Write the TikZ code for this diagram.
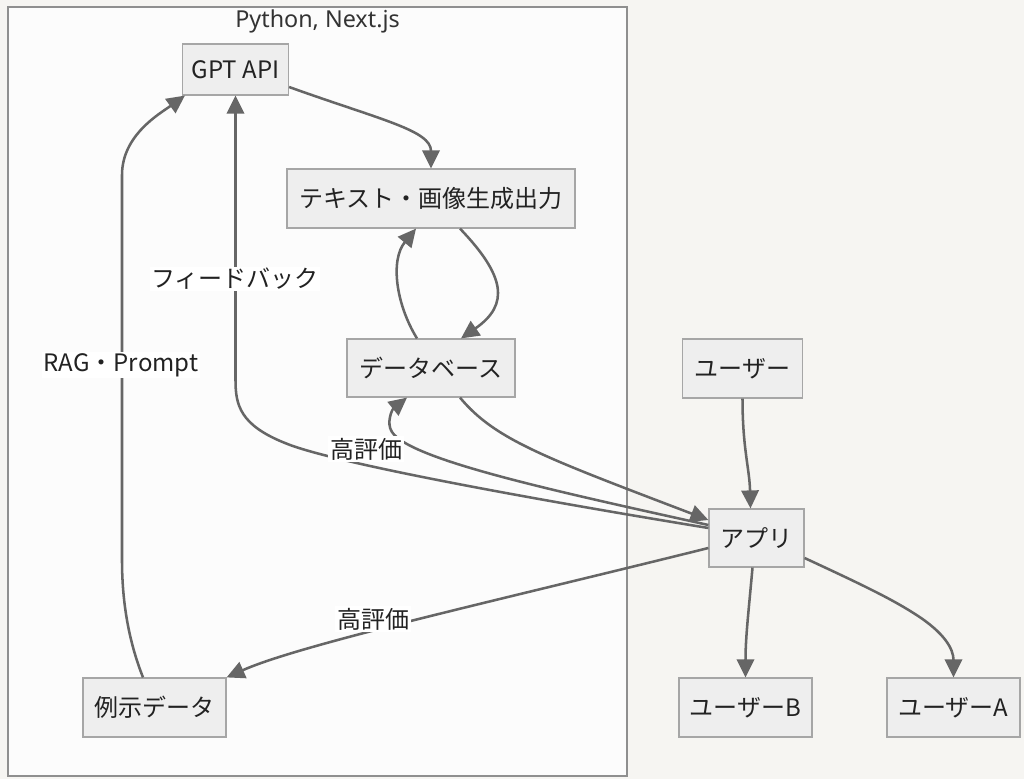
\documentclass[tikz,border=0pt]{standalone}
\usepackage{fontspec}
\setmainfont{Noto Sans CJK JP}
\newfontfamily\titlefont{Noto Sans}
\usetikzlibrary{arrows.meta,calc}
\definecolor{bgc}{HTML}{F6F5F2}
\definecolor{clfill}{HTML}{FCFCFC}
\definecolor{clline}{HTML}{8F8F8F}
\definecolor{boxfill}{HTML}{EEEEEE}
\definecolor{boxline}{HTML}{A6A6A6}
\definecolor{edgec}{HTML}{666666}
\definecolor{txt}{HTML}{222222}
\definecolor{titlec}{HTML}{333333}
\begin{document}
\begin{tikzpicture}[x=0.75pt,y=-0.75pt,
  nbox/.style={draw=boxline, fill=boxfill, line width=0.9pt, inner sep=0pt, text=txt, font=\fontsize{18}{22}\selectfont},
  conn/.style={draw=edgec, line width=1.9pt, -{Triangle[length=13.5pt,width=13pt]}},
  lbl/.style={fill=white, inner sep=1.2pt, text=txt, font=\fontsize{18}{22}\selectfont}]
\useasboundingbox (0,0) rectangle (1024,779);
\fill[bgc] (0,0) rectangle (1024,779);
% cluster
\node[draw=clline, fill=clfill, line width=1.1pt, minimum width=464.25pt, minimum height=576.75pt, inner sep=0pt] (cluster) at (317.5,391.5) {};
\node[text=titlec, font=\titlefont\fontsize{17.5}{20}\selectfont] (title) at (317.5,21) {Python, Next.js};
% nodes
\node[nbox, minimum width=79.5pt, minimum height=38.25pt] (gpt) at (235.5,69.5) {GPT API};
\node[nbox, minimum width=216pt, minimum height=44.25pt] (text) at (431,198.5) {テキスト・画像生成出力};
\node[nbox, minimum width=126pt, minimum height=43.5pt] (db) at (431,368) {データベース};
\node[nbox, minimum width=90pt, minimum height=44.25pt] (user) at (742.5,368.5) {ユーザー};
\node[nbox, minimum width=71.25pt, minimum height=43.5pt] (app) at (756.5,538) {アプリ};
\node[nbox, minimum width=107.25pt, minimum height=44.25pt] (ex) at (154.5,707.5) {例示データ};
\node[nbox, minimum width=99.75pt, minimum height=44.25pt] (userB) at (745.5,707.5) {ユーザーB};
\node[nbox, minimum width=99.75pt, minimum height=44.25pt] (userA) at (953.5,707.5) {ユーザーA};
% helper coordinates
\coordinate (c1) at (392,432);
\coordinate (c2) at (285,443);
\coordinate (c3) at (235.5,380);
\coordinate (c4) at (122,560);
\coordinate (c5) at (122,175);
\coordinate (c6) at (915,614);
% edges
\draw[conn] ($(gpt.east)+(0,17.5)$) .. controls +(92,33) and +(0,-38) .. (text.north);
\draw[conn] ($(text.south)+(29,0)$) .. controls +(45,47) and +(49,-34) .. ($(db.north)+(30,0)$);
\draw[conn] ($(db.north)+(-14,0)$) .. controls +(-21,-34) and +(-26,31.5) .. ($(text.south)+(-15,0)$);
\draw[conn] ($(app.west)+(0,-13)$) .. controls +(-149,-33) and +(18,28) .. (c1) .. controls +(-6,-9) and +(-15,12) .. ($(db.south)+(-24,0)$);
\draw[conn] ($(app.west)+(0,-10)$) .. controls +(-189,-31) and +(45,19) .. (c2) .. controls +(-45,-18) and +(0,25) .. (c3) -- (gpt.south);
\draw[conn] ($(db.south)+(29,0)$) .. controls +(35,42) and +(-165,-63) .. ($(app.west)+(0,-18)$);
\draw[conn] (user.south) .. controls +(0,50) and +(-1,-40) .. ($(app.north)+(-6,0)$);
\draw[conn] ($(app.west)+(0,10)$) .. controls +(-209,52) and +(74,-33) .. (ex.north east);
\draw[conn] ($(ex.north)+(-11.5,0)$) .. controls +(-15,-38) and +(0,40) .. (c4) -- (c5) .. controls +(0,-40) and +(-25,18) .. ($(gpt.south west)+(3,0)$);
\draw[conn] ($(app.south)+(-4,0)$) .. controls +(-4,45) and +(0,-40) .. (userB.north);
\draw[conn] ($(app.east)+(0,20)$) .. controls +(56,26) and +(-25,-16) .. (c6) .. controls +(30,19) and +(0,-28) .. (userA.north);
% labels
\node[lbl] (lfb) at (235,279) {フィードバック};
\node[lbl] (lrag) at (121,365) {RAG・Prompt};
\node[lbl] (lhi1) at (366,449) {高評価};
\node[lbl] (lhi2) at (373,619) {高評価};
\end{tikzpicture}
\end{document}
